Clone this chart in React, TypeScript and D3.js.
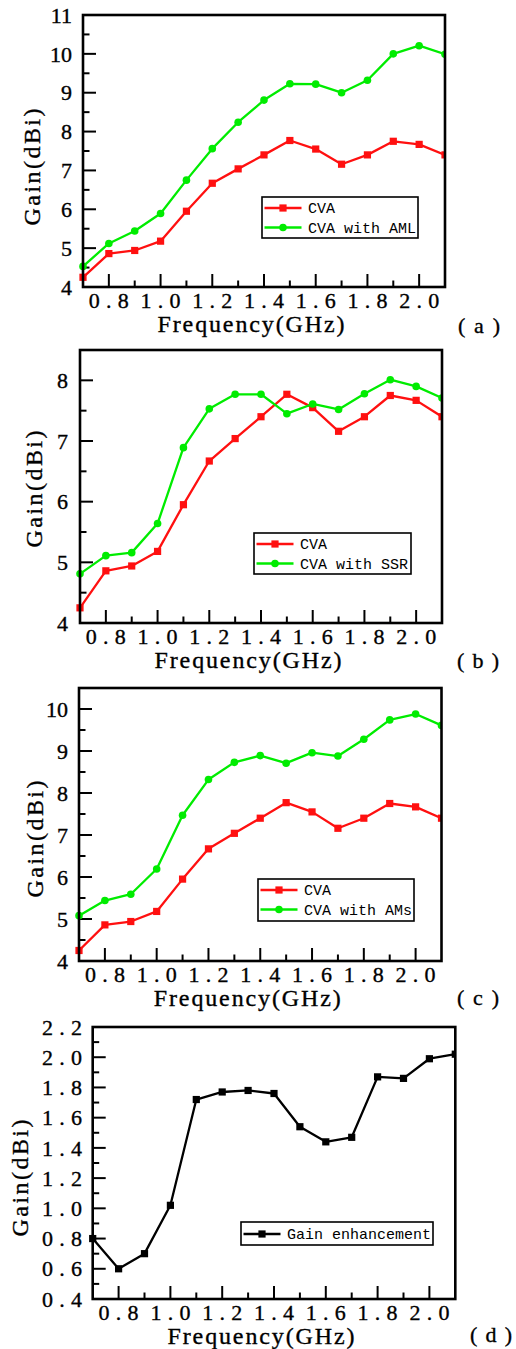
import React from "react";
import * as d3 from "d3";

// ---------- data ----------
const freqs = [0.7, 0.8, 0.9, 1.0, 1.1, 1.2, 1.3, 1.4, 1.5, 1.6, 1.7, 1.8, 1.9, 2.0, 2.1];
const cvaGain = [4.25, 4.86, 4.94, 5.18, 5.95, 6.67, 7.04, 7.4, 7.77, 7.55, 7.16, 7.4, 7.75, 7.67, 7.4];
const amlGain = [4.53, 5.12, 5.44, 5.89, 6.75, 7.56, 8.24, 8.81, 9.23, 9.22, 9.0, 9.32, 10.0, 10.21, 9.99];
const ssrGain = [4.81, 5.11, 5.16, 5.64, 6.89, 7.53, 7.77, 7.77, 7.45, 7.61, 7.52, 7.78, 8.01, 7.9, 7.71];
const amsGain = [5.08, 5.44, 5.59, 6.19, 7.47, 8.32, 8.73, 8.89, 8.71, 8.96, 8.88, 9.28, 9.74, 9.88, 9.61];
const gainEnhancement = [0.8, 0.6, 0.7, 1.02, 1.72, 1.77, 1.78, 1.76, 1.54, 1.44, 1.47, 1.87, 1.86, 1.99, 2.02];

const xMajorTicks = [0.8, 1.0, 1.2, 1.4, 1.6, 1.8, 2.0];
const xMinorTicks = [0.9, 1.1, 1.3, 1.5, 1.7, 1.9];
const xLabel = "Frequency(GHz)";
const yLabel = "Gain(dBi)";

const RED = "#ff1010";
const GREEN = "#00ec00";
const BLACK = "#000000";

type Series = { name: string; values: number[]; color: string; marker: "square" | "circle" };

const panels = [
  {
    tag: "(a)",
    box: { l: 83, r: 445, t: 15, b: 287 },
    yDomain: [4, 11],
    yMajor: [4, 5, 6, 7, 8, 9, 10, 11],
    yMinor: [4.5, 5.5, 6.5, 7.5, 8.5, 9.5, 10.5],
    yFmt: (v: number) => String(v),
    yLabelRight: 72,
    yTitle: { x: 40, y: 167 },
    legend: { x: 262, y: 197, w: 156, h: 41 },
    tagPos: { x: 458, y: 333 },
    series: [
      { name: "CVA", values: cvaGain, color: RED, marker: "square" },
      { name: "CVA with AML", values: amlGain, color: GREEN, marker: "circle" },
    ] as Series[],
  },
  {
    tag: "(b)",
    box: { l: 80, r: 442, t: 350, b: 623 },
    yDomain: [4, 8.5],
    yMajor: [4, 5, 6, 7, 8],
    yMinor: [4.5, 5.5, 6.5, 7.5],
    yFmt: (v: number) => String(v),
    yLabelRight: 68,
    yTitle: { x: 42, y: 489 },
    legend: { x: 254, y: 533, w: 157, h: 41 },
    tagPos: { x: 457, y: 668 },
    series: [
      { name: "CVA", values: cvaGain, color: RED, marker: "square" },
      { name: "CVA with SSR", values: ssrGain, color: GREEN, marker: "circle" },
    ] as Series[],
  },
  {
    tag: "(c)",
    box: { l: 79, r: 441.5, t: 688, b: 961 },
    yDomain: [4, 10.5],
    yMajor: [4, 5, 6, 7, 8, 9, 10],
    yMinor: [4.5, 5.5, 6.5, 7.5, 8.5, 9.5],
    yFmt: (v: number) => String(v),
    yLabelRight: 68,
    yTitle: { x: 43, y: 839 },
    legend: { x: 258, y: 879, w: 156, h: 42 },
    tagPos: { x: 457, y: 1005 },
    series: [
      { name: "CVA", values: cvaGain, color: RED, marker: "square" },
      { name: "CVA with AMs", values: amsGain, color: GREEN, marker: "circle" },
    ] as Series[],
  },
  {
    tag: "(d)",
    box: { l: 92.7, r: 455.3, t: 1027, b: 1299 },
    yDomain: [0.4, 2.2],
    yMajor: [0.4, 0.6, 0.8, 1.0, 1.2, 1.4, 1.6, 1.8, 2.0, 2.2],
    yMinor: [0.5, 0.7, 0.9, 1.1, 1.3, 1.5, 1.7, 1.9, 2.1],
    yFmt: (v: number) => v.toFixed(1),
    yLabelRight: 82,
    yTitle: { x: 28, y: 1178 },
    legend: { x: 241, y: 1222, w: 192, h: 23 },
    tagPos: { x: 470, y: 1342 },
    series: [{ name: "Gain enhancement", values: gainEnhancement, color: BLACK, marker: "square" }] as Series[],
  },
];

const SERIF = "Liberation Serif, DejaVu Serif, serif";
const MONO = "Liberation Mono, DejaVu Sans Mono, monospace";
const bold = { stroke: "#000", strokeWidth: 0.35 };

function Marker({ x, y, s }: { x: number; y: number; s: Series }) {
  if (s.marker === "square") return <rect x={x - 3.6} y={y - 3.6} width={7.2} height={7.2} fill={s.color} />;
  return <circle cx={x} cy={y} r={3.8} fill={s.color} />;
}

function Panel({ p }: { p: (typeof panels)[number] }) {
  const { box } = p;
  const x = d3.scaleLinear().domain([0.7, 2.1]).range([box.l, box.r]);
  const y = d3.scaleLinear().domain(p.yDomain).range([box.b, box.t]);
  const line = d3
    .line<number>()
    .x((_, i) => x(freqs[i]))
    .y((v) => y(v));
  const clipId = "clip" + p.tag.replace(/[()]/g, "");
  const cx = (box.l + box.r) / 2;
  return (
    <g>
      <defs>
        <clipPath id={clipId}>
          <rect x={box.l - 5} y={box.t} width={box.r - box.l + 5} height={box.b - box.t + 5} />
        </clipPath>
      </defs>
      {xMajorTicks.map((t) => (
        <line key={"xM" + t} x1={x(t)} x2={x(t)} y1={box.b} y2={box.b - 13} stroke="#000" strokeWidth={2} />
      ))}
      {xMinorTicks.map((t) => (
        <line key={"xm" + t} x1={x(t)} x2={x(t)} y1={box.b} y2={box.b - 6.5} stroke="#000" strokeWidth={2} />
      ))}
      {p.yMajor.map((t) => (
        <line key={"yM" + t} x1={box.l} x2={box.l + 13} y1={y(t)} y2={y(t)} stroke="#000" strokeWidth={2} />
      ))}
      {p.yMinor.map((t) => (
        <line key={"ym" + t} x1={box.l} x2={box.l + 6.5} y1={y(t)} y2={y(t)} stroke="#000" strokeWidth={2} />
      ))}
      <g clipPath={`url(#${clipId})`}>
        {p.series.map((s) => (
          <g key={s.name}>
            <path d={line(s.values) || ""} fill="none" stroke={s.color} strokeWidth={2.3} strokeLinejoin="round" />
            {s.values.map((v, i) => (
              <Marker key={i} x={x(freqs[i])} y={y(v)} s={s} />
            ))}
          </g>
        ))}
      </g>
      <rect x={box.l} y={box.t} width={box.r - box.l} height={box.b - box.t} fill="none" stroke="#000" strokeWidth={2.6} />
      {xMajorTicks.map((t) => (
        <text
          key={"xl" + t}
          x={x(t)}
          y={box.b + 21}
          textAnchor="middle"
          fontFamily={SERIF}
          fontSize={22}
          textLength={40}
          lengthAdjust="spacing"
          {...bold}
        >
          {t.toFixed(1)}
        </text>
      ))}
      {p.yMajor.map((t) => {
        const label = p.yFmt(t);
        const extra = label.includes(".") ? { textLength: 40, lengthAdjust: "spacing" } : {};
        return (
          <text
            key={"yl" + t}
            x={p.yLabelRight}
            y={y(t)}
            dy="0.35em"
            textAnchor="end"
            fontFamily={SERIF}
            fontSize={22}
            {...bold}
            {...(extra as any)}
          >
            {label}
          </text>
        );
      })}
      <text
        x={cx - 13}
        y={box.b + 45}
        textAnchor="middle"
        fontFamily={SERIF}
        fontSize={24}
        textLength={187}
        lengthAdjust="spacing"
        {...bold}
      >
        {xLabel}
      </text>
      <text
        transform={`translate(${p.yTitle.x},${p.yTitle.y}) rotate(-90)`}
        textAnchor="middle"
        fontFamily={SERIF}
        fontSize={24}
        textLength={117}
        lengthAdjust="spacing"
        {...bold}
      >
        {yLabel}
      </text>
      <text x={p.tagPos.x} y={p.tagPos.y} fontFamily={SERIF} fontSize={22} textLength={42} lengthAdjust="spacing" {...bold}>
        {p.tag}
      </text>
      <g>
        <rect x={p.legend.x} y={p.legend.y} width={p.legend.w} height={p.legend.h} fill="#fff" stroke="#000" strokeWidth={1.6} />
        {p.series.map((s, i) => {
          const ry = p.legend.y + (p.series.length === 1 ? 12 : 11 + i * 19.5);
          const lx1 = p.legend.x + 2.5;
          const lx2 = p.legend.x + 39.5;
          return (
            <g key={s.name}>
              <line x1={lx1} x2={lx2} y1={ry} y2={ry} stroke={s.color} strokeWidth={2.3} />
              <Marker x={(lx1 + lx2) / 2} y={ry} s={s} />
              <text x={p.legend.x + 46} y={ry} dy="0.36em" fontFamily={MONO} fontSize={15}>
                {s.name}
              </text>
            </g>
          );
        })}
      </g>
    </g>
  );
}

export default function App() {
  return (
    <svg
      width={516}
      height={1349}
      viewBox="0 0 516 1349"
      style={{ position: "absolute", left: 0, top: 0, background: "#fff" }}
    >
      <rect x={0} y={0} width={516} height={1349} fill="#fff" />
      {panels.map((p) => (
        <Panel key={p.tag} p={p} />
      ))}
    </svg>
  );
}
